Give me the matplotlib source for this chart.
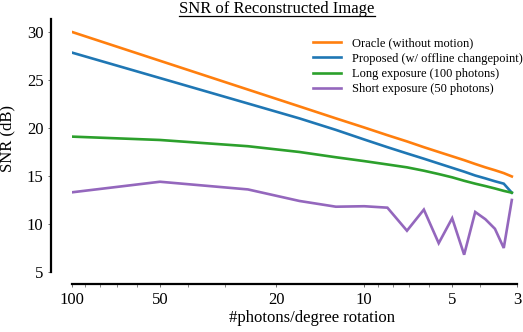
import matplotlib
matplotlib.use("Agg")
import matplotlib.pyplot as plt
from matplotlib.ticker import FixedLocator, FixedFormatter, LogLocator, NullFormatter
from matplotlib.lines import Line2D

plt.rcParams['font.family'] = ['Liberation Serif', 'DejaVu Serif']

# photons per degree rotation
photons = [100, 50, 25, 16.67, 12.5, 10, 8.33, 7.14, 6.25, 5.56, 5, 4.55, 4.17, 3.85, 3.57, 3.33, 3.125]

oracle = [30.0, 27.0, 24.0, 22.25, 21.0, 20.05, 19.25, 18.6, 18.0, 17.5, 17.05, 16.65, 16.25, 15.9, 15.6, 15.3, 14.95]
proposed = [27.85, 25.2, 22.55, 21.0, 19.8, 18.8, 18.0, 17.35, 16.8, 16.3, 15.85, 15.45, 15.05, 14.75, 14.45, 14.2, 13.26]
long_exp = [19.1, 18.75, 18.1, 17.5, 16.95, 16.55, 16.2, 15.9, 15.55, 15.2, 14.86, 14.5, 14.2, 13.95, 13.7, 13.45, 13.26]
short_exp = [13.3, 14.4, 13.6, 12.4, 11.8, 11.85, 11.7, 9.3, 11.5, 8.0, 10.6, 6.8, 11.25, 10.5, 9.5, 7.5, 12.5]

labels = ['Oracle (without motion)', 'Proposed (w/ offline changepoint)',
          'Long exposure (100 photons)', 'Short exposure (50 photons)']
colors = ['#ff7f0e', '#1f77b4', '#2ca02c', '#9467bd']

xticks = [100, 50, 20, 10, 5, 3]
yticks = [5, 10, 15, 20, 25, 30]

W, H = 523, 332
fig = plt.figure(figsize=(W / 100, H / 100), dpi=100)
ax = fig.add_axes([72 / W, 60 / H, 445 / W, 253 / H])

for series, lab, col in zip([oracle, proposed, long_exp, short_exp], labels, colors):
    ax.plot(photons, series, color=col, lw=1.9, label=lab, solid_joinstyle='miter')

ax.set_xscale('log')
ax.set_xlim(100, 3)
ax.set_ylim(5, 31.35)
ax.xaxis.set_major_locator(FixedLocator(xticks))
ax.xaxis.set_major_formatter(FixedFormatter([str(t) for t in xticks]))
ax.xaxis.set_minor_locator(LogLocator(base=10, subs=range(2, 10)))
ax.xaxis.set_minor_formatter(NullFormatter())
ax.set_yticks(yticks)

for s in ['top', 'right']:
    ax.spines[s].set_visible(False)
ax.spines['left'].set_position(('outward', 15))
ax.spines['bottom'].set_position(('outward', 8.6))
ax.spines['left'].set_linewidth(1.6)
ax.spines['bottom'].set_linewidth(1.6)

ax.tick_params(axis='both', which='major', length=2.5, width=0.6, color='#555555', labelsize=12, pad=3)
ax.tick_params(axis='x', which='minor', length=2, width=0.5, color='#555555')
ax.tick_params(axis='y', which='minor', length=0)

ax.set_xlabel('#photons/degree rotation', fontsize=12)
ax.set_ylabel('SNR (dB)', fontsize=12)
ax.xaxis.set_label_coords((312 - 72) / 445, -0.15)
ax.yaxis.set_label_coords(-(72 - 15) / 445, (272 - 138) / 253)

leg = ax.legend(loc='upper right', bbox_to_anchor=(1.024, 0.947), frameon=False, fontsize=9,
                handlelength=2.25, handletextpad=0.85, labelspacing=0.26, borderaxespad=0)

# underlined title
title = fig.text(277 / W, 1 - 9 / H, 'SNR of Reconstructed Image', ha='center', va='center', fontsize=12)
fig.canvas.draw()
bb = title.get_window_extent().transformed(fig.transFigure.inverted())
fig.add_artist(Line2D([bb.x0, bb.x1], [1 - 16 / H, 1 - 16 / H], transform=fig.transFigure,
                      color='black', lw=0.9))

fig.savefig('out.png', dpi=100)
